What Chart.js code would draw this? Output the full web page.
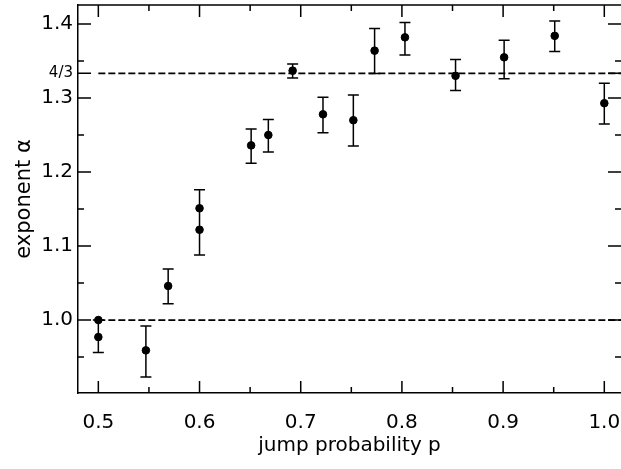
<!DOCTYPE html>
<html><head><meta charset="utf-8">
<script src="https://cdn.jsdelivr.net/npm/chart.js@4"></script>
<style>html,body{margin:0;padding:0;background:#fff;}#wrap{width:621px;height:469px;}</style>
</head><body><div id="wrap"><canvas id="c" width="621" height="469"></canvas></div>
<script>
// ---- data ----
const pValues     = [0.5,   0.5,   0.547, 0.569, 0.6,   0.6,   0.651, 0.668, 0.692, 0.722, 0.752, 0.773, 0.803, 0.853, 0.901, 0.951, 1.0];
const alphaValues = [1.000, 0.977, 0.959, 1.046, 1.151, 1.122, 1.236, 1.250, 1.337, 1.278, 1.270, 1.364, 1.382, 1.330, 1.355, 1.384, 1.293];
const errLow      = [null,  0.956, 0.923, 1.022, null,  1.088, 1.212, 1.227, 1.327, 1.253, 1.235, 1.333, 1.358, 1.310, 1.326, 1.363, 1.265];
const errHigh     = [null,  1.000, 0.992, 1.069, null,  1.176, 1.258, 1.271, 1.346, 1.301, 1.304, 1.394, 1.402, 1.352, 1.378, 1.404, 1.320];
const refLevels   = [1.0, 4/3];
const refStartP   = 0.5;
const xTickValues = [0.5, 0.6, 0.7, 0.8, 0.9, 1.0];
const xTickLabels = ['0.5','0.6','0.7','0.8','0.9','1.0'];
const xMinorValues = [0.55, 0.65, 0.75, 0.85, 0.95];
const yTickValues = [1.0, 1.1, 1.2, 1.3, 4/3, 1.4];
const yTickLabels = ['1.0','1.1','1.2','1.3','4/3','1.4'];
const yMinorValues = [0.95, 1.05, 1.15, 1.25, 1.35];
const xRange = [0.4799, 1.0165];
const yRange = [0.9014, 1.4257];
const xTitle = 'jump probability p';
const yTitle = 'exponent α';

const FONT = 'DejaVu Sans';

const points = pValues.map((p,i)=>({x:p, y:alphaValues[i]}));
const refDatasets = refLevels.map(v=>({
  type:'line', data:[{x:refStartP,y:v},{x:xRange[1],y:v}],
  borderColor:'#000', borderWidth:1.8, borderDash:[7,3], pointRadius:0, fill:false, showLine:true, order:2
}));

const errorBarPlugin = {
  id:'errbars',
  afterDatasetsDraw(chart){
    const {ctx, scales:{x,y}} = chart;
    ctx.save();
    ctx.strokeStyle='#000'; ctx.lineWidth=1.5;
    pValues.forEach((p,i)=>{
      if(errLow[i]==null) return;
      const px=x.getPixelForValue(p), y1=y.getPixelForValue(errLow[i]), y2=y.getPixelForValue(errHigh[i]);
      ctx.beginPath();
      ctx.moveTo(px,y1); ctx.lineTo(px,y2);
      ctx.moveTo(px-5.5,y1); ctx.lineTo(px+5.5,y1);
      ctx.moveTo(px-5.5,y2); ctx.lineTo(px+5.5,y2);
      ctx.stroke();
    });
    ctx.restore();
  }
};

const frameTicksPlugin = {
  id:'frameticks',
  afterDraw(chart){
    const {ctx, chartArea:a, scales:{x,y}} = chart;
    ctx.save();
    ctx.strokeStyle='#000'; ctx.lineWidth=1.5;
    ctx.beginPath();
    ctx.moveTo(a.left,a.top); ctx.lineTo(a.right,a.top);
    const xt=(v,len)=>{const px=x.getPixelForValue(v);
      ctx.moveTo(px,a.bottom); ctx.lineTo(px,a.bottom-len);
      ctx.moveTo(px,a.top); ctx.lineTo(px,a.top+len);};
    const yt=(v,len)=>{const py=y.getPixelForValue(v);
      ctx.moveTo(a.left,py); ctx.lineTo(a.left+len,py);
      ctx.moveTo(a.right,py); ctx.lineTo(a.right-len,py);};
    xTickValues.forEach(v=>xt(v,12));
    xMinorValues.forEach(v=>xt(v,6));
    yTickValues.forEach(v=>yt(v,13));
    yMinorValues.forEach(v=>yt(v,6));
    ctx.stroke();
    ctx.restore();
  }
};

new Chart(document.getElementById('c'), {
  type:'scatter',
  data:{datasets:[
    {data:points, backgroundColor:'#000', borderColor:'#000', pointRadius:3.8, pointHoverRadius:3.8, order:1},
    ...refDatasets
  ]},
  options:{
    responsive:false, animation:false, devicePixelRatio:1,
    layout:{autoPadding:false, padding:{top:5,left:0,right:0,bottom:0}},
    plugins:{legend:{display:false}, tooltip:{enabled:false}},
    scales:{
      x:{type:'linear', min:xRange[0], max:xRange[1],
        afterFit(s){s.height=76; s.paddingLeft=0; s.paddingRight=0;},
        afterBuildTicks(s){s.ticks=xTickValues.map(v=>({value:v}));},
        ticks:{autoSkip:false, maxRotation:0, padding:18, color:'#000', font:{family:FONT,size:20},
          callback:(v,i)=>xTickLabels[i]},
        grid:{display:true, drawOnChartArea:false, drawTicks:false, tickLength:0},
        border:{display:true, color:'#000', width:1.5},
        title:{display:true, text:xTitle, color:'#000', font:{family:FONT,size:20}, padding:{top:0,bottom:11}}
      },
      y:{type:'linear', min:yRange[0], max:yRange[1],
        afterFit(s){s.width=78; s.paddingTop=0; s.paddingBottom=0;},
        afterBuildTicks(s){s.ticks=yTickValues.map(v=>({value:v}));},
        ticks:{autoSkip:false, padding:5, color:'#000',
          font:(c)=>({family:FONT, size:(c.tick && Math.abs(c.tick.value-4/3)<1e-6)?15:20}),
          callback:(v,i)=>yTickLabels[i]},
        grid:{display:true, drawOnChartArea:false, drawTicks:false, tickLength:0},
        border:{display:true, color:'#000', width:1.5},
        title:{display:true, text:yTitle, color:'#000', font:{family:FONT,size:21}, padding:{top:12,bottom:0}}
      }
    }
  },
  plugins:[errorBarPlugin, frameTicksPlugin]
});
</script></body></html>
